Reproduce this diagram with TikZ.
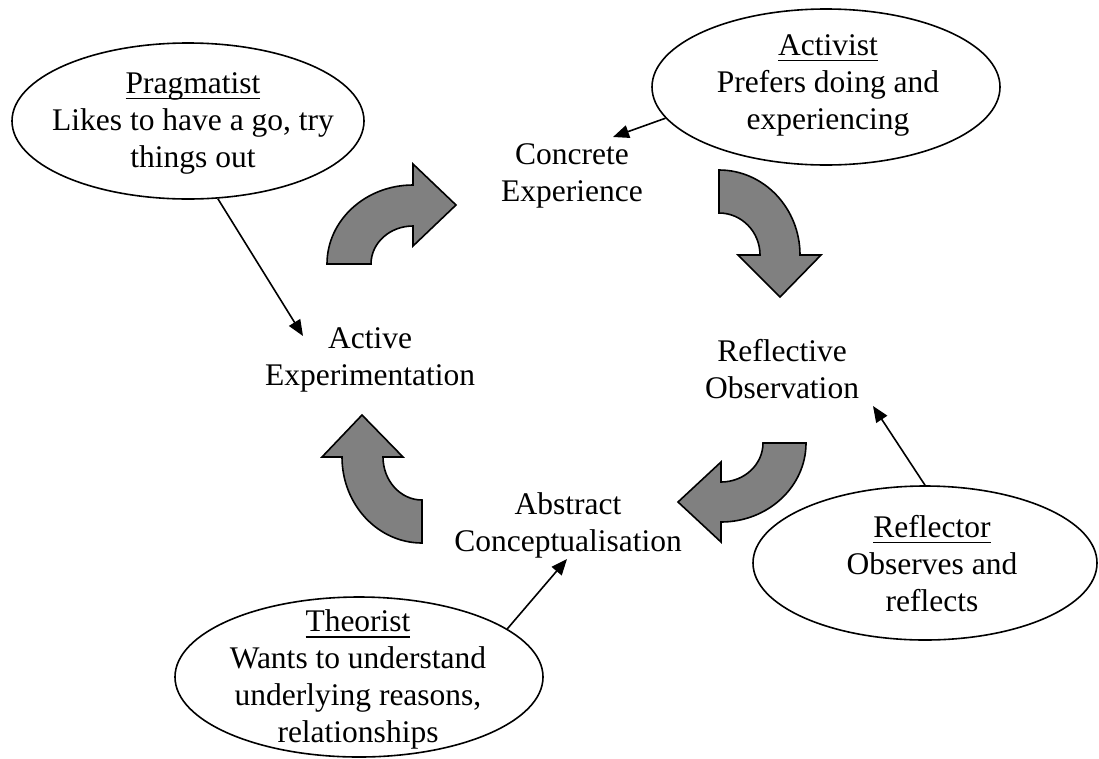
\documentclass[tikz,border=0pt]{standalone}
\usepackage{fontspec}
\setmainfont{Liberation Serif}
\usetikzlibrary{shapes.geometric,arrows.meta}
\definecolor{arrowgray}{HTML}{808080}
\newsavebox\ulbox
\newcommand{\ulword}[1]{\sbox\ulbox{#1}\rlap{\rule[-6pt]{\wd\ulbox}{1.8pt}}\usebox\ulbox}
\begin{document}
\begin{tikzpicture}[x=1pt,y=1pt,
  txt/.style={align=center,inner sep=0pt,font=\fontsize{31.5}{37}\selectfont},
  bubble/.style={ellipse,draw,line width=1.6pt,inner sep=0pt},
  link/.style={line width=1.6pt,-{Triangle[length=16pt,width=13pt]}},
  bendarrow/.style={fill=arrowgray,draw=black,line width=1.6pt,line join=miter}]
\useasboundingbox[fill=white] (0,0) rectangle (1099,-758);

% cycle stages
\node[txt] (conc)   at (572,-176) {\strut Concrete\\\strut Experience};
\node[txt] (active) at (370,-360) {\strut Active\\\strut Experimentation};
\node[txt] (refl)   at (782,-373) {\strut Reflective\\\strut Observation};
\node[txt] (abst)   at (568,-526) {\strut Abstract\\\strut Conceptualisation};

% curved block arrows
\draw[bendarrow] (327,-264) arc[start angle=180,end angle=90,x radius=86,y radius=79]
  -- (413,-164) -- (456,-205) -- (413,-246) -- (413,-226)
  arc[start angle=90,end angle=180,x radius=42,y radius=38] -- cycle;
\draw[bendarrow] (719,-170) arc[start angle=90,end angle=0,x radius=81,y radius=85]
  -- (821,-255) -- (780,-297) -- (738,-255) -- (760,-255)
  arc[start angle=0,end angle=90,x radius=41,y radius=42] -- cycle;
\draw[bendarrow] (806,-443) arc[start angle=0,end angle=-90,x radius=85,y radius=79]
  -- (721,-542) -- (678,-502) -- (721,-462) -- (721,-482)
  arc[start angle=-90,end angle=0,x radius=42,y radius=39] -- cycle;
\draw[bendarrow] (422,-543) arc[start angle=270,end angle=180,x radius=80,y radius=86]
  -- (322,-457) -- (362,-415) -- (403,-457) -- (383,-457)
  arc[start angle=180,end angle=270,x radius=39,y radius=43] -- cycle;

% style bubbles
\node[bubble,minimum width=352pt,minimum height=156pt] (prag) at (188,-121) {};
\node[txt] (pragtext) at (193,-123) {\strut\ulword{Pragmatist}\\\strut Likes to have a go, try\\\strut things out};
\node[bubble,minimum width=348pt,minimum height=156pt] (acti) at (826,-87) {};
\node[txt] (actitext) at (828,-85) {\strut\ulword{Activist}\\\strut Prefers doing and\\\strut experiencing};
\node[bubble,minimum width=368pt,minimum height=160pt] (theo) at (359,-677) {};
\node[txt] (theotext) at (358,-680) {\strut\ulword{Theorist}\\\strut Wants to understand\\\strut underlying reasons,\\\strut relationships};
\node[bubble,minimum width=344pt,minimum height=154pt] (refr) at (925,-563) {};
\node[txt] (refrtext) at (932,-567) {\strut\ulword{Reflector}\\\strut Observes and\\\strut reflects};

% connector tips
\coordinate (pragtip) at (303,-336);
\coordinate (actitip) at (613,-137);
\coordinate (theotip) at (567,-559);
\coordinate (refrtip) at (873,-406);

\draw[link] (prag.-69.4) -- (pragtip);
\draw[link] (acti.-169.6) -- (actitip);
\draw[link] (theo.18.8) -- (theotip);
\draw[link] (refr.90.7) -- (refrtip);
\end{tikzpicture}
\end{document}
